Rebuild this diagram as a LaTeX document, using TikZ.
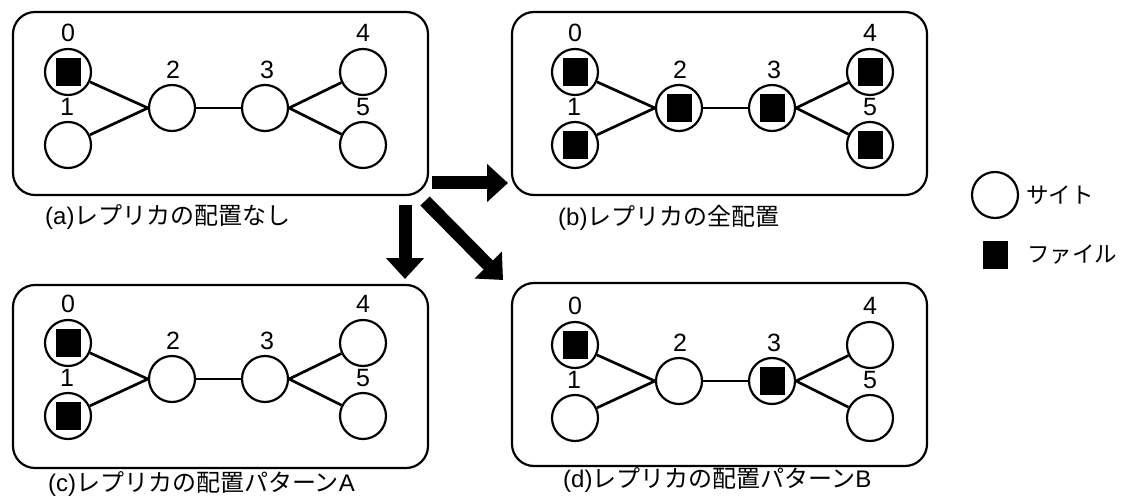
\documentclass[tikz,border=0pt]{standalone}
\usepackage{fontspec}
\setmainfont{Noto Sans CJK JP}
\newfontfamily\latinsans{Liberation Sans}
\usetikzlibrary{arrows.meta,calc}

\tikzset{
  panelbox/.style={draw=black, line width=2.2pt, rounded corners=22pt},
  site/.style={circle, draw=black, line width=2.2pt, fill=white, minimum size=46pt, inner sep=0pt},
  file/.style={rectangle, fill=black, minimum width=25pt, minimum height=28pt, inner sep=0pt},
  edge/.style={draw=black, line width=2.7pt},
  num/.style={inner sep=0pt, font=\latinsans\fontsize{25}{28}\selectfont},
  caption/.style={inner sep=0pt, anchor=west, font=\fontsize{24}{28}\selectfont},
  legtext/.style={inner sep=0pt, anchor=west, font=\fontsize{22.5}{26}\selectfont},
  bigarrow/.style={line width=13pt, -{Triangle[length=21pt, width=37pt]}},
}

% #1 prefix, #2/#3 box corner, #4/#5 centre of site 0,
% #6/#7 caption start, #8 caption, #9 sites holding the file
\newcommand{\graphpanel}[9]{%
  \draw[panelbox] (#2,#3) rectangle ++(415,183);
  \node[site] (#10) at (#4,#5) {};
  \node[site] (#11) at (#4,#5+73) {};
  \node[site] (#12) at (#4+104,#5+36) {};
  \node[site] (#13) at (#4+197,#5+36) {};
  \node[site] (#14) at (#4+295,#5) {};
  \node[site] (#15) at (#4+295,#5+73) {};
  \node[num] (#1n0) at (#4,#5-39) {0};
  \node[num] (#1n1) at (#4-1,#5+73-38) {1};
  \node[num] (#1n2) at (#4+105,#5+36-38) {2};
  \node[num] (#1n3) at (#4+199,#5+36-38) {3};
  \node[num] (#1n4) at (#4+295,#5-39) {4};
  \node[num] (#1n5) at (#4+295,#5+73-38) {5};
  \draw[edge] (#10) -- (#12.west);
  \draw[edge] (#11) -- (#12.west);
  \draw[edge] (#12) -- (#13);
  \draw[edge] (#13.east) -- (#14);
  \draw[edge] (#13.east) -- (#15);
  \foreach \k in {#9} { \node[file] (#1f\k) at (#1\k) {}; }
  \node[caption] (#1cap) at (#6,#7) {#8};
}

\begin{document}
\begin{tikzpicture}[x=1pt, y=-1pt]
  \useasboundingbox[fill=white] (0,0) rectangle (1126,497);

  \graphpanel{a}{13}{12}{68}{72}{45}{217}{{\latinsans(a)}レプリカの配置なし}{0}
  \graphpanel{b}{512}{12}{575}{72}{558}{218}{{\latinsans(b)}レプリカの全配置}{0,1,2,3,4,5}
  \graphpanel{c}{13}{285}{68}{343}{48}{484}{{\latinsans(c)}レプリカの配置パターン{\latinsans A}}{0,1}
  \graphpanel{d}{512}{283}{575}{345}{563}{480}{{\latinsans(d)}レプリカの配置パターン{\latinsans B}}{0,3}

  % transitions from the empty placement
  \coordinate (rs) at (432,183);
  \coordinate (re) at (508,183);
  \coordinate (ds) at (405,205);
  \coordinate (de) at (405,279);
  \coordinate (gs) at (425,201);
  \coordinate (ge) at (503,280);
  \draw[bigarrow] (rs) -- (re);
  \draw[bigarrow] (ds) -- (de);
  \draw[bigarrow] (gs) -- (ge);

  % legend
  \node[site] (legsite) at (995,195) {};
  \node[legtext] (legsitetext) at (1026,195) {サイト};
  \node[file] (legfile) at (995,255) {};
  \node[legtext] (legfiletext) at (1027,255) {ファイル};
\end{tikzpicture}
\end{document}
